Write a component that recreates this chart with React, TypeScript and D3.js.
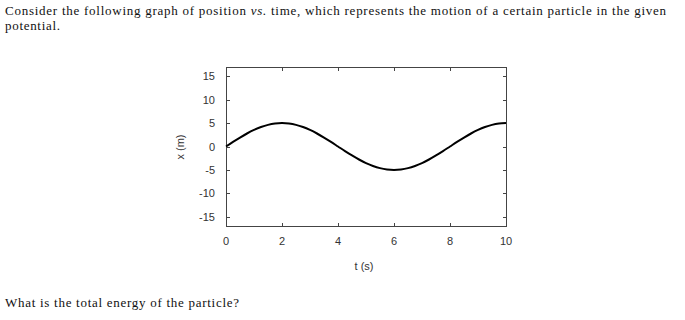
import React from "react";
import * as d3 from "d3";

const tValues = [0, 0.25, 0.5, 0.75, 1, 1.25, 1.5, 1.75, 2, 2.25, 2.5, 2.75, 3, 3.25, 3.5, 3.75, 4, 4.25, 4.5, 4.75, 5, 5.25, 5.5, 5.75, 6, 6.25, 6.5, 6.75, 7, 7.25, 7.5, 7.75, 8, 8.25, 8.5, 8.75, 9, 9.25, 9.5, 9.75, 10];
const xValues = [0, 0.98, 1.91, 2.78, 3.54, 4.16, 4.62, 4.9, 5, 4.9, 4.62, 4.16, 3.54, 2.78, 1.91, 0.98, 0, -0.98, -1.91, -2.78, -3.54, -4.16, -4.62, -4.9, -5, -4.9, -4.62, -4.16, -3.54, -2.78, -1.91, -0.98, 0, 0.98, 1.91, 2.78, 3.54, 4.16, 4.62, 4.9, 5];
const xTicks = [0, 2, 4, 6, 8, 10];
const yTicks = [15, 10, 5, 0, -5, -10, -15];
const questionLine1a = "Consider the following graph of position ";
const questionItalic = "vs.";
const questionLine1b = " time, which represents the motion of a certain particle in the given";
const questionLine2 = "potential.";
const questionBottom = "What is the total energy of the particle?";
const xLabel = "t (s)";
const yLabel = "x (m)";

export default function App() {
  const left = 226, right = 506, top = 67, bottom = 226;
  const xs = d3.scaleLinear().domain([0, 10]).range([left, right]);
  const ys = d3.scaleLinear().domain([-17, 17]).range([bottom, top]);
  const line = d3
    .line<number>()
    .x((_, i) => xs(tValues[i]))
    .y((d) => ys(d))
    .curve(d3.curveCatmullRom);
  const serif = "'Liberation Serif', 'Times New Roman', serif";
  const sans = "'Liberation Sans', Arial, sans-serif";
  const tickLen = 3;
  return (
    <svg
      width={685}
      height={320}
      style={{ position: "absolute", left: 0, top: 0, background: "#fff" }}
    >
      <text x={5} y={15} fontFamily={serif} fontSize={13} fill="#111" textLength={661} lengthAdjust="spacing">
        {questionLine1a}
        <tspan fontStyle="italic">{questionItalic}</tspan>
        {questionLine1b}
      </text>
      <text x={5} y={30} fontFamily={serif} fontSize={13} fill="#111" textLength={55} lengthAdjust="spacing">
        {questionLine2}
      </text>
      <text x={5} y={307} fontFamily={serif} fontSize={13} fill="#111" textLength={234} lengthAdjust="spacing">
        {questionBottom}
      </text>

      <rect x={left + 0.5} y={top + 0.5} width={right - left} height={bottom - top} fill="none" stroke="#444" strokeWidth={1} />

      {xTicks.map((t) => (
        <g key={"xt" + t}>
          <line x1={Math.round(xs(t)) + 0.5} x2={Math.round(xs(t)) + 0.5} y1={bottom} y2={bottom - tickLen} stroke="#444" />
          <line x1={Math.round(xs(t)) + 0.5} x2={Math.round(xs(t)) + 0.5} y1={top + 1} y2={top + 1 + tickLen} stroke="#444" />
          <text x={xs(t)} y={245} textAnchor="middle" fontFamily={sans} fontSize={11} fill="#333">
            {t}
          </text>
        </g>
      ))}
      {yTicks.map((v) => (
        <g key={"yt" + v}>
          <line x1={left + 1} x2={left + 1 + tickLen} y1={Math.round(ys(v)) + 0.5} y2={Math.round(ys(v)) + 0.5} stroke="#444" />
          <line x1={right} x2={right - tickLen} y1={Math.round(ys(v)) + 0.5} y2={Math.round(ys(v)) + 0.5} stroke="#444" />
          <text x={215} y={ys(v) + 4} textAnchor="end" fontFamily={sans} fontSize={11} fill="#333">
            {v}
          </text>
        </g>
      ))}

      <path d={line(xValues) || ""} fill="none" stroke="#000" strokeWidth={2} />

      <text x={364} y={270} textAnchor="middle" fontFamily={sans} fontSize={11} fill="#333">
        {xLabel}
      </text>
      <text
        transform={`translate(184, 147) rotate(-90)`}
        textAnchor="middle"
        fontFamily={sans}
        fontSize={11}
        fill="#333"
      >
        {yLabel}
      </text>
    </svg>
  );
}
